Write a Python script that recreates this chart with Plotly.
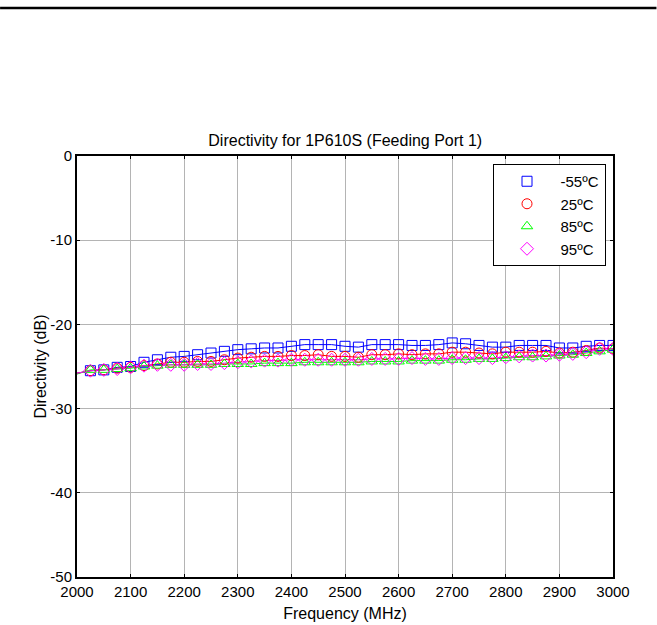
import plotly.graph_objects as go

freq = [2000, 2025, 2050, 2075, 2100, 2125, 2150, 2175, 2200, 2225, 2250, 2275, 2300,
        2325, 2350, 2375, 2400, 2425, 2450, 2475, 2500, 2525, 2550, 2575, 2600, 2625,
        2650, 2675, 2700, 2725, 2750, 2775, 2800, 2825, 2850, 2875, 2900, 2925, 2950,
        2975, 3000]

d_m55 = [-25.8, -25.5, -25.4, -25.1, -25.0, -24.5, -24.2, -23.9, -23.8, -23.6, -23.4,
         -23.2, -23.0, -22.9, -22.8, -22.8, -22.6, -22.4, -22.4, -22.4, -22.6, -22.7,
         -22.4, -22.4, -22.4, -22.5, -22.5, -22.4, -22.2, -22.3, -22.5, -22.7, -22.7,
         -22.5, -22.5, -22.5, -22.8, -22.8, -22.6, -22.5, -22.5]
d_25 = [-25.8, -25.5, -25.4, -25.2, -25.1, -24.9, -24.7, -24.5, -24.5, -24.4, -24.4,
        -24.2, -24.0, -23.9, -23.8, -23.8, -23.7, -23.7, -23.6, -23.8, -23.8, -23.9,
        -23.6, -23.6, -23.5, -23.6, -23.5, -23.5, -23.3, -23.3, -23.4, -23.5, -23.3,
        -23.3, -23.3, -23.2, -23.4, -23.3, -23.1, -22.8, -22.9]
d_85 = [-25.9, -25.4, -25.4, -25.3, -25.2, -25.0, -24.9, -24.8, -24.8, -24.8, -24.8,
        -24.7, -24.7, -24.7, -24.6, -24.6, -24.6, -24.5, -24.5, -24.5, -24.5, -24.5,
        -24.4, -24.4, -24.4, -24.3, -24.3, -24.3, -24.2, -24.2, -24.1, -24.1, -24.0,
        -23.9, -23.9, -23.8, -23.7, -23.6, -23.4, -23.2, -23.0]
d_95 = [-25.8, -25.5, -25.4, -25.3, -25.1, -24.9, -24.8, -24.8, -24.8, -24.7, -24.7,
        -24.6, -24.5, -24.4, -24.3, -24.3, -24.2, -24.2, -24.2, -24.2, -24.2, -24.2,
        -24.1, -24.1, -24.1, -24.0, -24.1, -24.1, -24.0, -24.0, -24.0, -24.0, -23.9,
        -23.8, -23.7, -23.7, -23.6, -23.5, -23.3, -22.9, -22.9]

series_names = ["-55ºC", "25ºC", "85ºC", "95ºC"]
series_data = [d_m55, d_25, d_85, d_95]
series_colors = ["#0000ff", "#ff0000", "#00ff00", "#ff00ff"]
series_symbols = ["square-open", "circle-open", "triangle-up-open", "diamond-open"]

x_ticks = [2000, 2100, 2200, 2300, 2400, 2500, 2600, 2700, 2800, 2900, 3000]
y_ticks = [0, -10, -20, -30, -40, -50]
y_tick_labels = ["0", "-10", "-20", "-30", "-40", "-50"]

W, H = 657, 625
L, R, T, B = 77, 613.5, 156, 577

fig = go.Figure()
# lines (no legend)
for name, d, c in zip(series_names, series_data, series_colors):
    fig.add_trace(go.Scatter(x=freq, y=d, mode="lines", line=dict(color=c, width=1),
                             showlegend=False, hoverinfo="skip"))
# markers (legend), markers start at the second frequency point
for name, d, c, s in zip(series_names, series_data, series_colors, series_symbols):
    fig.add_trace(go.Scatter(x=freq[1:], y=d[1:], mode="markers", name=name,
                             marker=dict(symbol=s, size=10, color=c, line=dict(width=1, color=c))))

font = dict(family="Liberation Sans, Arial, sans-serif", size=15, color="black")
pw, ph = R - L, B - T

fig.update_layout(
    width=W, height=H,
    margin=dict(l=L, r=W - R, t=T, b=H - B, pad=0, autoexpand=False),
    paper_bgcolor="white", plot_bgcolor="white",
    font=font,
    title=dict(text="Directivity for 1P610S (Feeding Port 1)", x=(L + R) / 2 / W,
               xanchor="center", y=1 - 140 / H, yanchor="middle", font=dict(size=16)),
    xaxis=dict(range=[2000, 3000], tickvals=x_ticks, ticks="inside", ticklen=3,
               tickcolor="black", showline=True, linecolor="black", linewidth=2,
               mirror="ticks", showgrid=True, gridcolor="#b4b4b4", gridwidth=1,
               zeroline=False, automargin=False,
               title=dict(text="Frequency (MHz)", standoff=9, font=dict(size=16)),
               tickfont=dict(size=15)),
    yaxis=dict(range=[-50, 0], tickvals=y_ticks, ticktext=y_tick_labels, ticks="inside",
               ticklen=3, tickcolor="black", showline=True, linecolor="black", linewidth=2,
               mirror="ticks", showgrid=True, gridcolor="#b4b4b4", gridwidth=1,
               zeroline=False, automargin=False,
               title=dict(text="Directivity (dB)", standoff=0, font=dict(size=16)),
               tickfont=dict(size=15)),
    legend=dict(x=(606 - L) / pw, xanchor="right", y=(B - 164) / ph, yanchor="top",
                bgcolor="white", bordercolor="black", borderwidth=1,
                font=dict(size=15), itemwidth=57, tracegroupgap=0),
    shapes=[dict(type="line", xref="paper", yref="paper",
                 x0=-L / pw, x1=(W - L) / pw, y0=(B - 8) / ph, y1=(B - 8) / ph,
                 line=dict(color="black", width=2.5))],
)

fig.write_html("out.html", config={"displayModeBar": False},
               post_script="document.body.style.margin='0';document.body.style.overflow='hidden';")
